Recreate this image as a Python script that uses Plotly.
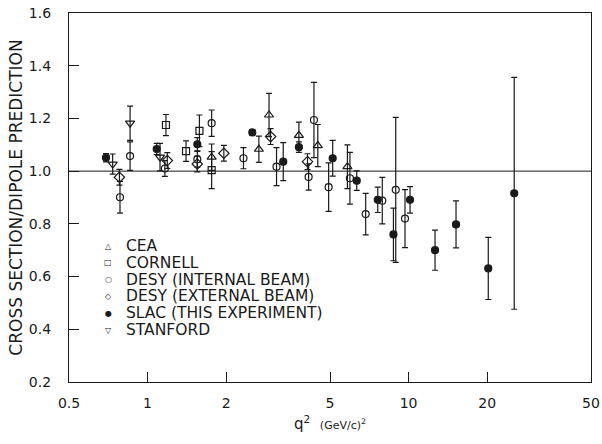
import plotly.graph_objects as go

# ---- data (q^2 in (GeV/c)^2, ratio, error) ----
cea_q2 = [1.76, 2.67, 2.92, 3.80, 4.49, 5.83]
cea_r = [1.053, 1.083, 1.213, 1.136, 1.097, 1.017]
cea_e = [0.05, 0.05, 0.082, 0.05, 0.08, 0.083]

cornell_q2 = [1.176, 1.404, 1.58, 1.76]
cornell_r = [1.175, 1.076, 1.153, 1.004]
cornell_e = [0.04, 0.039, 0.06, 0.07]

desy_int_q2 = [0.784, 0.857, 1.165, 1.551, 1.76, 2.33, 3.12, 4.14, 4.34, 4.94, 5.96, 6.85, 7.93, 8.93, 9.69]
desy_int_r = [0.901, 1.057, 1.01, 1.045, 1.182, 1.049, 1.017, 0.978, 1.194, 0.939, 0.973, 0.837, 0.888, 0.929, 0.82]
desy_int_e = [0.06, 0.054, 0.03, 0.03, 0.05, 0.04, 0.072, 0.05, 0.143, 0.092, 0.098, 0.079, 0.088, 0.275, 0.11]

desy_ext_q2 = [0.78, 1.19, 1.55, 1.96, 2.96, 4.10]
desy_ext_r = [0.977, 1.04, 1.027, 1.068, 1.131, 1.036]
desy_ext_e = [0.03, 0.03, 0.03, 0.03, 0.03, 0.03]

slac_q2 = [0.693, 1.084, 1.551, 2.52, 3.31, 3.80, 5.12, 6.33, 7.62, 8.75, 10.13, 12.63, 15.2, 20.2, 25.4]
slac_r = [1.051, 1.084, 1.102, 1.147, 1.036, 1.091, 1.049, 0.964, 0.891, 0.76, 0.891, 0.70, 0.798, 0.631, 0.916]
slac_e = [0.016, 0.021, 0.025, 0.01, 0.072, 0.02, 0.068, 0.037, 0.048, 0.10, 0.05, 0.076, 0.089, 0.118, 0.44]

stanford_q2 = [0.735, 0.857, 1.116]
stanford_r = [1.027, 1.182, 1.053]
stanford_e = [0.038, 0.065, 0.052]

x_ticks = [0.5, 1, 2, 5, 10, 20, 50]
x_ticklabels = ["0.5", "1", "2", "5", "10", "20", "50"]
y_ticks = [0.2, 0.4, 0.6, 0.8, 1.0, 1.2, 1.4, 1.6]
y_ticklabels = ["0.2", "0.4", "0.6", "0.8", "1.0", "1.2", "1.4", "1.6"]

legend_names = ["CEA", "CORNELL", "DESY (INTERNAL BEAM)", "DESY (EXTERNAL BEAM)",
                "SLAC (THIS EXPERIMENT)", "STANFORD"]
legend_symbols = ["\u25b3", "\u25a1", "\u25cb", "\u25c7", "\u25cf", "\u25bd"]

INK = "#1a1a1a"
FONT = "DejaVu Sans"

series = [
    (cea_q2, cea_r, cea_e, "triangle-up-open", 8),
    (cornell_q2, cornell_r, cornell_e, "square-open", 7),
    (desy_int_q2, desy_int_r, desy_int_e, "circle-open", 7),
    (desy_ext_q2, desy_ext_r, desy_ext_e, "diamond-open", 8),
    (slac_q2, slac_r, slac_e, "circle", 7),
    (stanford_q2, stanford_r, stanford_e, "triangle-down-open", 8),
]

fig = go.Figure()
for (xs, ys, es, sym, sz), name in zip(series, legend_names):
    fig.add_trace(go.Scatter(
        x=xs, y=ys, mode="markers", name=name, showlegend=False,
        marker=dict(symbol=sym, size=sz, color=INK,
                    line=dict(color=INK, width=1.2)),
        error_y=dict(type="data", array=es, visible=True, color=INK,
                     thickness=1.2, width=3),
    ))

# horizontal reference line at ratio = 1
fig.add_shape(type="line", xref="paper", x0=0, x1=1, yref="y", y0=1.0, y1=1.0,
              line=dict(color=INK, width=1))

# legend drawn as rows of text (symbol + label)
PLOT_H = 444 - 13 - 62
row_top = (382 - 246) / PLOT_H   # paper y of first row centre
row_step = 16.8 / PLOT_H
for i, (sym, name) in enumerate(zip(legend_symbols, legend_names)):
    yy = row_top - i * row_step
    fig.add_annotation(xref="paper", yref="paper", x=(108 - 69) / 522, y=yy,
                       xanchor="center", yanchor="middle", showarrow=False,
                       text=sym, font=dict(family="DejaVu Sans", size=8, color=INK))
    fig.add_annotation(xref="paper", yref="paper", x=(125 - 69) / 522, y=yy,
                       xanchor="left", yanchor="middle", showarrow=False,
                       height=16, borderpad=0,
                       text=name, font=dict(family=FONT, size=15.5, color=INK))

fig.update_layout(
    width=602, height=444,
    margin=dict(l=69, r=11, t=13, b=62),
    paper_bgcolor="white", plot_bgcolor="white",
    font=dict(family=FONT, color=INK, size=14),
    showlegend=False,
)
fig.update_xaxes(
    type="log", range=[-0.30103, 1.69897], automargin=False,
    tickvals=x_ticks, ticktext=x_ticklabels,
    ticks="inside", ticklen=10, tickcolor=INK, tickwidth=1,
    showline=True, linecolor=INK, linewidth=1.2, mirror=True,
    showgrid=False, zeroline=False,
    tickfont=dict(size=14, color=INK), ticklabelstandoff=8,
    title=dict(text="q<sup>2</sup>  <span style='font-size:11px'>(GeV/c)<sup>2</sup></span>",
               font=dict(size=15, color=INK), standoff=8),
)
fig.update_yaxes(
    range=[0.2, 1.6], automargin=False,
    tickvals=y_ticks, ticktext=y_ticklabels,
    ticks="inside", ticklen=10, tickcolor=INK, tickwidth=1,
    showline=True, linecolor=INK, linewidth=1.2, mirror=True,
    showgrid=False, zeroline=False,
    tickfont=dict(size=14, color=INK), ticklabelstandoff=14,
    title=dict(text="CROSS SECTION/DIPOLE PREDICTION",
               font=dict(size=17, color=INK), standoff=1),
)

fig.write_html("out.html", config={"displayModeBar": False},
               post_script="document.body.style.margin='0px';")
